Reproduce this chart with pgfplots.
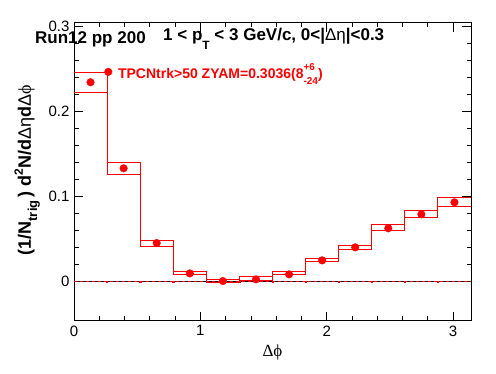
\documentclass[border=0pt]{standalone}
\usepackage{pgfplots}
\pgfplotsset{compat=1.18}
\usepackage{fontspec}
\setmainfont{Liberation Sans}
\newfontfamily\serifgr{Liberation Serif}
\begin{document}
\begin{tikzpicture}[x=1pt,y=1pt]
\path[use as bounding box] (0,0) rectangle (496,374);
\begin{axis}[
  at={(74pt,53pt)}, anchor=south west,
  scale only axis, width=397pt, height=298pt,
  xmin=0, xmax=3.14159, ymin=-0.047, ymax=0.3035,
  xtick={0,1,2,3}, minor x tick num=4,
  ytick={0,0.1,0.2,0.3}, minor y tick num=4,
  scaled y ticks=false,
  tick align=inside, major tick length=9pt, minor tick length=4.5pt,
  xtick pos=both, ytick pos=both,
  tick style={black, line width=0.8pt},
  axis line style={line width=1pt},
  /pgf/number format/assume math mode=true,
  ticklabel style={font=\fontsize{15}{15}\selectfont},
  yticklabel style={/pgf/number format/fixed, xshift=-1pt},
  xticklabel style={yshift=-1pt},
  xlabel={\serifgr Δϕ},
  xlabel style={at={(axis description cs:0.5,-0.105)}, anchor=center, font=\fontsize{17}{17}\selectfont},
  ylabel={\bfseries (1/N\raisebox{-0.35em}{\fontsize{13}{13}\selectfont trig}\,) d\raisebox{0.45em}{\fontsize{12}{12}\selectfont 2}N/d{\mdseries Δη}d{\mdseries Δ\serifgr ϕ}},
  ylabel style={at={(axis description cs:-0.118,0.803)}, anchor=east, font=\fontsize{18}{18}\selectfont},
  legend style={at={(axis cs:0.2413,0.246)}, anchor=west, draw=none, fill=none,
    inner sep=0pt, outer sep=0pt, text=red,
    font=\bfseries\fontsize{14}{14}\selectfont,
    nodes={inner sep=0pt},
    /tikz/every odd column/.append style={column sep=6pt}},
]
% zero line
\addplot[red, line width=0.6pt, dash pattern=on 3pt off 3pt, forget plot] coordinates {(0,0) (3.14159,0)};
\addplot[black, line width=0.6pt, dash pattern=on 3pt off 3pt, dash phase=3pt, forget plot] coordinates {(0,0) (3.14159,0)};
\addplot[red, only marks, mark=square*, mark size=0.6pt, forget plot] coordinates {
(0.2618,-0.0008) (0.5236,-0.0008) (0.7854,-0.0008) (1.0472,-0.0008) (1.3090,-0.0008) (1.5708,-0.0008)
(1.8326,-0.0008) (2.0944,-0.0008) (2.3562,-0.0008) (2.6180,-0.0008) (2.8798,-0.0008)};
% systematic band: upper and lower edges
\addplot[red, line width=1pt, const plot mark left, forget plot] coordinates {
(0,0.2455) (0.2618,0.1390) (0.5236,0.0480) (0.7854,0.0114) (1.0472,0.0020) (1.3090,0.0055)
(1.5708,0.0114) (1.8326,0.0267) (2.0944,0.0420) (2.3562,0.0667) (2.6180,0.0832) (2.8798,0.0985) (3.14159,0.0985)};
\addplot[red, line width=1pt, const plot mark left, forget plot] coordinates {
(0,0.2220) (0.2618,0.1255) (0.5236,0.0410) (0.7854,0.0079) (1.0472,-0.0015) (1.3090,0.0004)
(1.5708,0.0072) (1.8326,0.0232) (2.0944,0.0373) (2.3562,0.0596) (2.6180,0.0750) (2.8798,0.0879) (3.14159,0.0879)};
% data points
\addplot[red, only marks, mark=*, mark size=3.8pt, forget plot,
  error bars/.cd, y dir=both, y explicit, error bar style={line width=1pt}, error mark=none]
  coordinates {
(0.1309,0.2338) +- (0,0.003)
(0.3927,0.1326) +- (0,0.003)
(0.6545,0.0447) +- (0,0.003)
(0.9163,0.0090) +- (0,0.003)
(1.1781,0.0000) +- (0,0.003)
(1.4399,0.0020) +- (0,0.003)
(1.7017,0.0079) +- (0,0.003)
(1.9635,0.0243) +- (0,0.003)
(2.2253,0.0396) +- (0,0.003)
(2.4871,0.0620) +- (0,0.003)
(2.7489,0.0785) +- (0,0.003)
(3.0107,0.0926) +- (0,0.003)};
\addlegendimage{red, only marks, mark=*, mark size=3.8pt, mark options={draw=red, fill=red}}
\addlegendentry{TPCNtrk>50 ZYAM=0.3036(8\makebox[0pt][l]{\raisebox{0.55em}{\fontsize{10}{10}\selectfont +6}}\raisebox{-0.4em}{\fontsize{10}{10}\selectfont -24})}
\end{axis}
\node[anchor=west, font=\bfseries\fontsize{17}{17}\selectfont, inner sep=0pt] at (35,335) {Run12 pp 200};
\node[anchor=west, font=\bfseries\fontsize{17}{17}\selectfont, inner sep=0pt] at (163,335) {1 < p\raisebox{-0.5em}{\fontsize{12}{12}\selectfont T} < 3 GeV/c, 0<|{\mdseries Δη}|<0.3};
\end{tikzpicture}
\end{document}
